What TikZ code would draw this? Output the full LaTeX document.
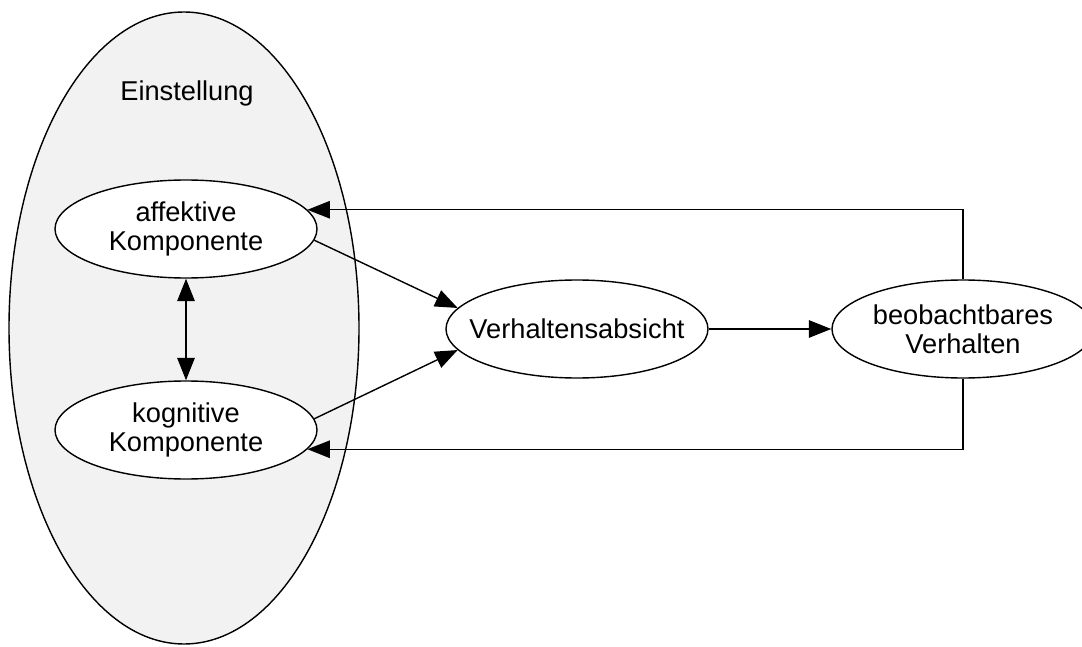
\documentclass[tikz,border=0pt]{standalone}
\usepackage{fontspec}
\setmainfont{Liberation Sans}
\usetikzlibrary{arrows.meta,shapes.geometric}
\definecolor{einfill}{HTML}{F2F2F2}

\begin{document}
\begin{tikzpicture}[line width=0.8pt,>={Triangle[length=0.45cm,width=0.35cm]}]
    \useasboundingbox (0,0) rectangle (21.64,12.92);
    \node[ellipse,draw,fill=einfill,minimum width=7cm,minimum height=12.64cm] (einst) at (3.68,6.36) {};
    \node[font=\fontsize{15.5}{16.5}\selectfont] (einstlabel) at (3.74,11.06) {Einstellung};
    \begin{scope}[every node/.style={ellipse,draw,fill=white,minimum width=5.24cm,minimum height=1.96cm,inner sep=0pt,align=center,font=\fontsize{15.5}{16.5}\selectfont}]
      \node (aff) at (3.72,8.34) {affektive\\Komponente};
      \node (kog) at (3.72,4.32) {kognitive\\Komponente};
      \node[inner xsep=-0.35cm] (abs) at (11.54,6.34) {Verhaltensabsicht};
      \node (beob) at (19.26,6.34) {beobachtbares\\Verhalten};
    \end{scope}
    \begin{scope}[
      every edge/.style={draw,->}]
      \path (aff.-5) edge (abs.170);
      \path (kog.5) edge (abs.190);
      \path (aff.south) edge[<->] (kog.north);
      \path (abs) edge (beob);
    \end{scope}
    \draw[->] (beob.north) |- (aff.9);
    \draw[->] (beob.south) |- (kog.-9);
\end{tikzpicture}
\end{document}
